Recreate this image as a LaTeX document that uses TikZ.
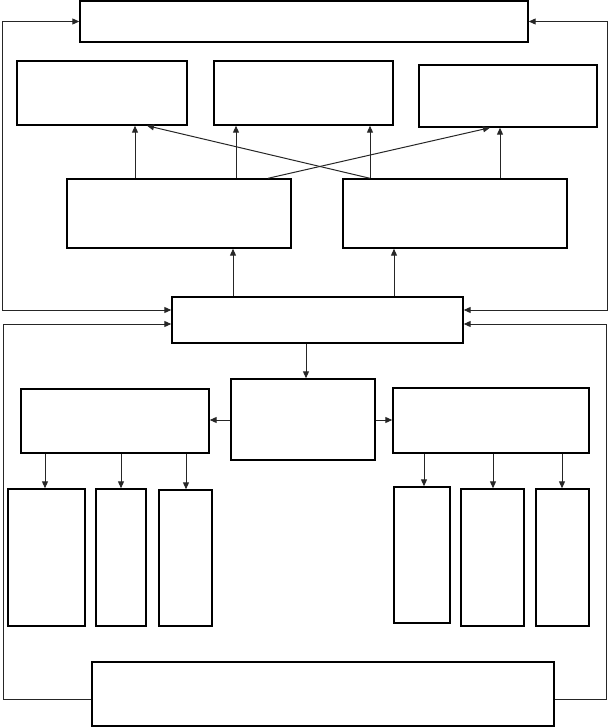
\documentclass[tikz,border=0pt]{standalone}
\usetikzlibrary{arrows.meta}
\begin{document}
\begin{tikzpicture}[x=1pt,y=1pt,
  box/.style={draw=black,line width=1.4pt,inner sep=0pt,fill=white},
  arr/.style={draw=black!85,line width=1pt,-{Triangle[length=7pt,width=6pt]}},
  darr/.style={draw=black!85,line width=1pt,{Triangle[length=7pt,width=6pt]}-{Triangle[length=7pt,width=6pt]}},
  ln/.style={draw=black!85,line width=1pt}]
\useasboundingbox (0,0) rectangle (608,-727);
% boxes
\node[box,minimum width=448pt,minimum height=41pt] (T) at (304,-21.5) {};
\node[box,minimum width=170pt,minimum height=64pt] (A1) at (102,-93) {};
\node[box,minimum width=179pt,minimum height=64pt] (A2) at (303.5,-93) {};
\node[box,minimum width=178pt,minimum height=62pt] (A3) at (508,-96) {};
\node[box,minimum width=224pt,minimum height=69pt] (B1) at (179,-213.5) {};
\node[box,minimum width=224pt,minimum height=69pt] (B2) at (455,-213.5) {};
\node[box,minimum width=291pt,minimum height=46pt] (C) at (317.5,-320) {};
\node[box,minimum width=144pt,minimum height=81pt] (C2) at (303,-419.5) {};
\node[box,minimum width=188pt,minimum height=64pt] (L) at (115,-421) {};
\node[box,minimum width=196pt,minimum height=65pt] (R) at (491,-420.5) {};
\node[box,minimum width=77pt,minimum height=137pt] (L1) at (46.5,-557.5) {};
\node[box,minimum width=50pt,minimum height=137pt] (L2) at (121,-557.5) {};
\node[box,minimum width=53pt,minimum height=136pt] (L3) at (185.5,-558) {};
\node[box,minimum width=56pt,minimum height=136pt] (R1) at (422,-555) {};
\node[box,minimum width=63pt,minimum height=137pt] (R2) at (492.5,-557.5) {};
\node[box,minimum width=53pt,minimum height=137pt] (R3) at (562.5,-557.5) {};
\node[box,minimum width=462pt,minimum height=64pt] (D) at (323,-694) {};
% row 3 to row 2
\draw[arr] (135,0 |- B1.north) -- (135,0 |- A1.south);
\draw[arr] (236,0 |- B1.north) -- (236,0 |- A2.south);
\draw[arr] (370,0 |- B2.north) -- (370,0 |- A2.south);
\draw[arr] (500,0 |- B2.north) -- (500,0 |- A3.south);
\draw[arr] (370,0 |- B2.north) -- (147,0 |- A1.south);
\draw[arr] (268,0 |- B1.north) -- (490,0 |- A3.south);
% C to row 3
\draw[arr] (233,0 |- C.north) -- (233,0 |- B1.south);
\draw[arr] (394,0 |- C.north) -- (394,0 |- B2.south);
% feedback loops
\draw[darr] (T.west) -| (2,-310) -- (C.west |- 0,-310);
\draw[darr] (T.east) -| (607,-310) -- (C.east |- 0,-310);
\draw[arr] (D.west |- 0,-699) -| (3,-324) -- (C.west |- 0,-324);
\draw[arr] (D.east |- 0,-699) -| (606,-324) -- (C.east |- 0,-324);
% lower part
\draw[arr] (306,0 |- C.south) -- (306,0 |- C2.north);
\draw[arr] (C2.west |- 0,-420) -- (L.east |- 0,-420);
\draw[arr] (C2.east |- 0,-420) -- (R.west |- 0,-420);
\draw[arr] (45,0 |- L.south) -- (45,0 |- L1.north);
\draw[arr] (121,0 |- L.south) -- (121,0 |- L2.north);
\draw[arr] (186,0 |- L.south) -- (186,0 |- L3.north);
\draw[arr] (424,0 |- R.south) -- (424,0 |- R1.north);
\draw[arr] (493,0 |- R.south) -- (493,0 |- R2.north);
\draw[arr] (562,0 |- R.south) -- (562,0 |- R3.north);
\end{tikzpicture}
\end{document}
